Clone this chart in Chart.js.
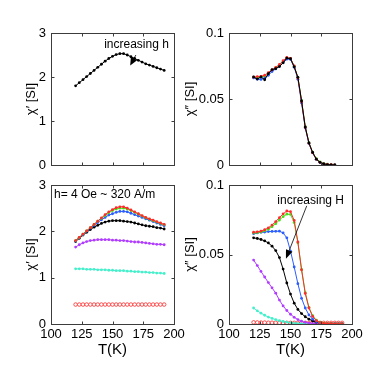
<!DOCTYPE html>
<html>
<head>
<meta charset="utf-8">
<script src="https://cdn.jsdelivr.net/npm/chart.js@4.4.1/dist/chart.umd.min.js"></script>
<style>
  html, body { margin: 0; padding: 0; background: #fff; }
  #wrap { position: relative; width: 382px; height: 373px; }
  canvas { position: absolute; left: 0; top: 0; }
</style>
</head>
<body>
<div id="wrap">
  <canvas id="c1" width="382" height="373"></canvas>
  <canvas id="c2" width="382" height="373"></canvas>
  <canvas id="c3" width="382" height="373"></canvas>
  <canvas id="c4" width="382" height="373"></canvas>
</div>
<script>
// ---------- DATA ----------
const temps = [120,123,126,129,132,135,138,141,144,147,150,153,156,159,162,165,168,171,174,177,180,183,186,189,192];
const tempsTR = [120,123,126,129,132,135,138,141,144,147,150,153,156,159,162,165,168,171,174,177,180,183,186];

const xTicks = [100,125,150,175,200];
const yTicksChi1 = [0,1,2,3];
const yTicksChi2 = [0,0.05,0.1];

// top-left: chi' at low drive field h
const tlBlack = [1.80,1.87,1.94,2.01,2.08,2.15,2.22,2.29,2.36,2.42,2.47,2.51,2.53,2.53,2.50,2.46,2.42,2.38,2.34,2.30,2.27,2.24,2.21,2.18,2.15];

// top-right: chi'' at low drive field h
const trBlack = [0.0667,0.0651,0.0667,0.0646,0.0692,0.0723,0.0730,0.0746,0.0774,0.0810,0.0805,0.0744,0.0664,0.0485,0.0287,0.0167,0.0095,0.0044,0.0020,0.0008,0.0003,0.0001,0.0000];
const trRed   = [0.0665,0.0670,0.0672,0.0680,0.0700,0.0720,0.0740,0.0762,0.0790,0.0815,0.0808,0.0750,0.0660,0.0480,0.0285,0.0165,0.0093,0.0044,0.0020,0.0009,0.0004,0.0002,0.0001];
const trBlue  = [0.0660,0.0650,0.0648,0.0658,0.0680,0.0708,0.0728,0.0748,0.0776,0.0802,0.0800,0.0740,0.0650,0.0470,0.0280,0.0162,0.0092,0.0043,0.0019,0.0008,0.0003,0.0001,0.0000];
const trGreen = [0.0662,0.0662,0.0665,0.0672,0.0695,0.0715,0.0735,0.0756,0.0784,0.0808,0.0806,0.0748,0.0666,0.0490,0.0292,0.0170,0.0098,0.0048,0.0024,0.0012,0.0006,0.0003,0.0001];

// bottom-left: chi' for increasing bias field H
const blRed     = [1.80,1.87,1.94,2.01,2.08,2.15,2.22,2.29,2.36,2.42,2.47,2.51,2.53,2.53,2.50,2.46,2.42,2.38,2.34,2.30,2.27,2.24,2.21,2.18,2.15];
const blGreen   = [1.80,1.87,1.94,2.01,2.08,2.15,2.22,2.28,2.34,2.40,2.45,2.48,2.50,2.50,2.48,2.45,2.41,2.37,2.33,2.29,2.26,2.23,2.20,2.17,2.14];
const blBlue    = [1.79,1.86,1.93,2.00,2.07,2.13,2.19,2.25,2.30,2.35,2.38,2.41,2.43,2.43,2.42,2.39,2.36,2.33,2.30,2.27,2.24,2.21,2.18,2.15,2.12];
const blBlack   = [1.78,1.85,1.92,1.98,2.04,2.09,2.13,2.17,2.20,2.22,2.23,2.23,2.23,2.22,2.21,2.20,2.18,2.16,2.14,2.12,2.11,2.10,2.08,2.07,2.05];
const blMagenta = [1.66,1.71,1.75,1.78,1.80,1.81,1.82,1.82,1.82,1.82,1.81,1.81,1.80,1.80,1.79,1.78,1.77,1.77,1.76,1.75,1.74,1.73,1.72,1.72,1.71];
const blCyan    = [1.19,1.19,1.19,1.18,1.18,1.18,1.17,1.17,1.17,1.16,1.16,1.15,1.15,1.15,1.14,1.14,1.13,1.13,1.12,1.12,1.11,1.11,1.10,1.10,1.09];
const blRed2    = [0.42,0.42,0.42,0.42,0.42,0.42,0.42,0.42,0.42,0.42,0.42,0.42,0.42,0.42,0.42,0.42,0.42,0.42,0.42,0.42,0.42,0.42,0.42,0.42,0.42];

// bottom-right: chi'' for increasing bias field H
const brRed     = [0.0660,0.0663,0.0668,0.0678,0.0692,0.0712,0.0737,0.0765,0.0792,0.0813,0.0808,0.0745,0.0590,0.0390,0.0220,0.0115,0.0055,0.0025,0.0010,0.0005,0.0003,0.0002,0.0001,0.0000,0.0000];
const brGreen   = [0.0655,0.0658,0.0662,0.0670,0.0682,0.0700,0.0722,0.0748,0.0772,0.0790,0.0788,0.0730,0.0585,0.0392,0.0225,0.0120,0.0060,0.0028,0.0012,0.0006,0.0003,0.0002,0.0001,0.0000,0.0000];
const brBlue    = [0.0650,0.0655,0.0660,0.0662,0.0665,0.0666,0.0667,0.0668,0.0655,0.0620,0.0525,0.0410,0.0290,0.0185,0.0115,0.0065,0.0035,0.0017,0.0008,0.0003,0.0001,0.0000,0.0000,0.0000,0.0000];
const brBlack   = [0.0620,0.0615,0.0608,0.0598,0.0583,0.0560,0.0528,0.0478,0.0395,0.0295,0.0215,0.0150,0.0105,0.0075,0.0052,0.0035,0.0022,0.0013,0.0007,0.0003,0.0001,0.0000,0.0000,0.0000,0.0000];
const brMagenta = [0.0460,0.0420,0.0378,0.0338,0.0298,0.0260,0.0222,0.0172,0.0130,0.0097,0.0070,0.0048,0.0032,0.0020,0.0012,0.0007,0.0004,0.0002,0.0001,0.0000,0.0000,0.0000,0.0000,0.0000,0.0000];
const brCyan    = [0.0115,0.0095,0.0078,0.0063,0.0050,0.0040,0.0031,0.0024,0.0018,0.0013,0.0009,0.0006,0.0004,0.0003,0.0002,0.0001,0.0000,0.0000,0.0000,0.0000,0.0000,0.0000,0.0000,0.0000,0.0000];
const brRed2    = [0.0012,0.0011,0.0010,0.0010,0.0009,0.0009,0.0009,0.0008,0.0008,0.0008,0.0008,0.0008,0.0008,0.0008,0.0008,0.0008,0.0008,0.0008,0.0008,0.0008,0.0008,0.0008,0.0008,0.0008,0.0008];

// ---------- STYLE ----------
const FONT = '"Liberation Sans", Arial, Helvetica, sans-serif';
const C = { red:'#ff2a2a', green:'#44e01a', blue:'#2a5cff', black:'#000000', magenta:'#b03cff', cyan:'#44efcc' };

function pts(xs, ys) { return xs.map((t, i) => ({ x: t, y: ys[i] })); }
function ds(xs, ys, color, open) {
  return {
    data: pts(xs, ys),
    borderColor: color,
    backgroundColor: open ? '#ffffff' : color,
    pointBackgroundColor: open ? '#ffffff' : color,
    pointBorderColor: color,
    pointBorderWidth: open ? 0.8 : 0,
    pointRadius: open ? 1.8 : 1.4,
    borderWidth: 1,
    tension: 0,
    fill: false
  };
}

// frame with inward ticks on all four sides (MATLAB box)
const frame = {
  id: 'frame',
  afterDraw(chart) {
    const { ctx, chartArea: a, scales: { x, y } } = chart;
    ctx.save();
    ctx.strokeStyle = '#3c3c3c';
    ctx.lineWidth = 1;
    const L = Math.round(a.left) + 0.5, R = Math.round(a.right) + 0.5;
    const T = Math.round(a.top) + 0.5, B = Math.round(a.bottom) + 0.5;
    ctx.strokeRect(L, T, R - L, B - T);
    ctx.beginPath();
    x.ticks.forEach(t => {
      const px = Math.round(x.getPixelForValue(t.value)) + 0.5;
      ctx.moveTo(px, B); ctx.lineTo(px, B - 3);
      ctx.moveTo(px, T); ctx.lineTo(px, T + 3);
    });
    y.ticks.forEach(t => {
      const py = Math.round(y.getPixelForValue(t.value)) + 0.5;
      ctx.moveTo(L, py); ctx.lineTo(L + 3, py);
      ctx.moveTo(R, py); ctx.lineTo(R - 3, py);
    });
    ctx.stroke();
    ctx.restore();
  }
};

// text annotation + arrow placed in data coordinates
const annot = {
  id: 'annot',
  afterDatasetsDraw(chart, args, o) {
    if (!o || !o.text) return;
    const { ctx, scales: { x, y } } = chart;
    ctx.save();
    ctx.font = '12px ' + FONT;
    ctx.fillStyle = '#000';
    ctx.textAlign = o.align || 'center';
    ctx.textBaseline = 'middle';
    ctx.fillText(o.text, x.getPixelForValue(o.tx), y.getPixelForValue(o.ty));
    if (o.arrow) {
      const x0 = x.getPixelForValue(o.arrow[0]), y0 = y.getPixelForValue(o.arrow[1]);
      const x1 = x.getPixelForValue(o.arrow[2]), y1 = y.getPixelForValue(o.arrow[3]);
      const ang = Math.atan2(y1 - y0, x1 - x0);
      const hl = o.head || 8, hw = 3.5;
      ctx.strokeStyle = '#000';
      ctx.lineWidth = 0.8;
      ctx.beginPath();
      ctx.moveTo(x0, y0);
      ctx.lineTo(x1 - hl * Math.cos(ang), y1 - hl * Math.sin(ang));
      ctx.stroke();
      ctx.beginPath();
      ctx.moveTo(x1, y1);
      ctx.lineTo(x1 - hl * Math.cos(ang) + hw * Math.sin(ang), y1 - hl * Math.sin(ang) - hw * Math.cos(ang));
      ctx.lineTo(x1 - hl * Math.cos(ang) - hw * Math.sin(ang), y1 - hl * Math.sin(ang) + hw * Math.cos(ang));
      ctx.closePath();
      ctx.fill();
    }
    ctx.restore();
  }
};

function fmt(v) { return String(+Number(v).toFixed(3)); }

function panel(id, cfg) {
  const area = cfg.area; // [left, top, right, bottom]
  const W = cfg.yW, H = cfg.showX ? 35 : 0;
  new Chart(document.getElementById(id), {
    type: 'line',
    data: { datasets: cfg.datasets },
    plugins: [frame, annot],
    options: {
      responsive: false,
      devicePixelRatio: 1,
      animation: false,
      events: [],
      layout: {
        padding: { left: area[0] - W, top: area[1], right: 382 - area[2], bottom: 373 - area[3] - H }
      },
      plugins: {
        legend: { display: false },
        tooltip: { enabled: false },
        annot: cfg.annot || {}
      },
      scales: {
        x: {
          type: 'linear',
          position: 'bottom',
          min: xTicks[0], max: xTicks[xTicks.length - 1],
          afterBuildTicks: s => { s.ticks = xTicks.map(v => ({ value: v })); },
          afterFit: s => { s.height = H; },
          grid: { display: false, drawTicks: false },
          border: { display: false },
          ticks: { display: cfg.showX, color: '#000', padding: 3, maxRotation: 0, autoSkip: false,
                   font: { size: 13, family: FONT }, callback: v => fmt(v) },
          title: { display: cfg.showX, text: 'T(K)', color: '#000', padding: { top: 0, bottom: 0 },
                   font: { size: 15, family: FONT } }
        },
        y: {
          type: 'linear',
          position: 'left',
          min: cfg.yTicks[0], max: cfg.yTicks[cfg.yTicks.length - 1],
          afterBuildTicks: s => { s.ticks = cfg.yTicks.map(v => ({ value: v })); },
          afterFit: s => { s.width = W; },
          grid: { display: false, drawTicks: false },
          border: { display: false },
          ticks: { color: '#000', padding: 5, autoSkip: false,
                   font: { size: 13, family: FONT }, callback: v => fmt(v) },
          title: { display: true, text: cfg.yTitle, color: '#000', padding: { top: cfg.yTitlePad, bottom: 0 },
                   font: { size: 13, family: FONT } }
        }
      }
    }
  });
}

// top-left
panel('c1', {
  area: [51, 33, 174, 165], yW: 27, yTitlePad: 0, showX: false,
  yTicks: yTicksChi1, yTitle: 'χ′ [SI]',
  datasets: [ ds(temps, tlBlack, C.black) ],
  annot: { text: 'increasing h', tx: 169.5, ty: 2.74, arrow: [169.0, 2.50, 164.4, 2.26], head: 8 }
});

// top-right
panel('c2', {
  area: [229, 33, 352, 165], yW: 46, yTitlePad: 0, showX: false,
  yTicks: yTicksChi2, yTitle: 'χ″ [SI]',
  datasets: [
    ds(tempsTR, trBlack, C.black),
    ds(tempsTR, trRed, C.red),
    ds(tempsTR, trBlue, C.blue),
    ds(tempsTR, trGreen, C.green)
  ]
});

// bottom-left
panel('c3', {
  area: [51, 185, 174, 324], yW: 27, yTitlePad: 0, showX: true,
  yTicks: yTicksChi1, yTitle: 'χ′ [SI]',
  datasets: [
    ds(temps, blRed, C.red),
    ds(temps, blGreen, C.green),
    ds(temps, blBlue, C.blue),
    ds(temps, blBlack, C.black),
    ds(temps, blMagenta, C.magenta),
    ds(temps, blCyan, C.cyan),
    ds(temps, blRed2, C.red, true)
  ],
  annot: { text: 'h= 4 Oe ~ 320 A/m', tx: 102.4, ty: 2.79, align: 'left' }
});

// bottom-right
panel('c4', {
  area: [229, 185, 352, 324], yW: 46, yTitlePad: 0, showX: true,
  yTicks: yTicksChi2, yTitle: 'χ″ [SI]',
  datasets: [
    ds(temps, brRed, C.red),
    ds(temps, brGreen, C.green),
    ds(temps, brBlue, C.blue),
    ds(temps, brBlack, C.black),
    ds(temps, brMagenta, C.magenta),
    ds(temps, brCyan, C.cyan),
    ds(temps, brRed2, C.red, true)
  ],
  annot: { text: 'increasing H', tx: 166.4, ty: 0.0886, arrow: [163.2, 0.0850, 146.3, 0.0469], head: 9 }
});
</script>
</body>
</html>
